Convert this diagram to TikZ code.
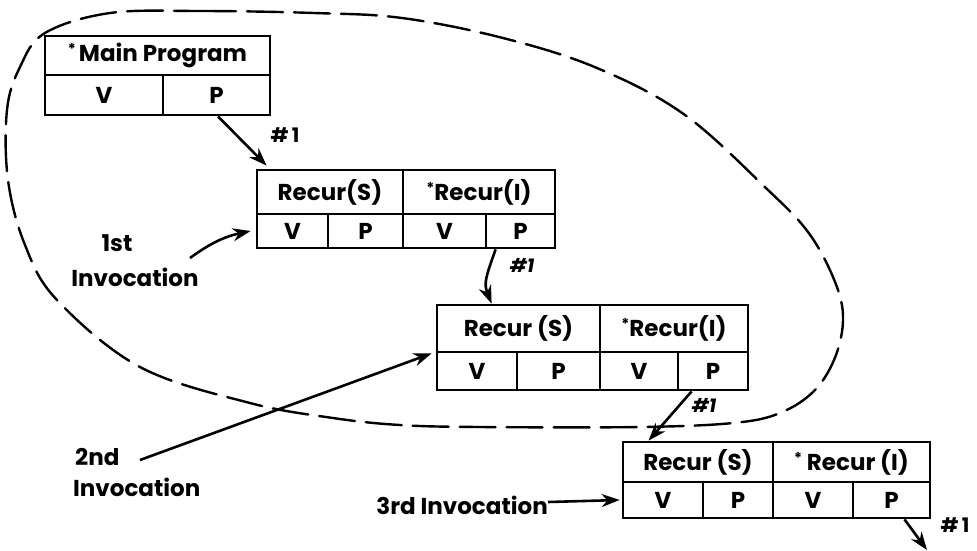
\documentclass[tikz,border=0pt]{standalone}
\usepackage{fontspec}
\setmainfont{Poppins}
\usetikzlibrary{arrows.meta}
\newcommand\mystar{\raisebox{0.3em}{\fontsize{15}{15}\selectfont *}}
\begin{document}
\begin{tikzpicture}[x=1pt,y=-1pt,
  cell/.style={draw, line width=2.8pt, inner sep=0pt, font=\fontsize{23}{27}\selectfont\bfseries},
  lbl/.style={inner sep=0pt, font=\fontsize{23}{27}\selectfont\bfseries},
  num/.style={inner sep=0pt, font=\fontsize{20}{24}\selectfont\bfseries},
  arr/.style={line width=2.6pt, -{Stealth[length=18pt,width=13pt]}},
  bound/.style={line width=2.4pt, dash pattern=on 36pt off 11pt, line cap=round}
]
\useasboundingbox (0,0) rectangle (977,550);

% dashed boundary
\draw[bound] plot[smooth cycle, tension=0.6] coordinates {
 (110,13) (200,11) (314,13) (402,18) (503,38) (597,68) (685,115) (768,190)
 (808,232) (833,277) (843,315) (836,355) (815,390) (780,413) (733,423)
 (640,427) (480,427) (400,425) (333,418) (250,403) (140,367) (57,300)
 (25,245) (8,180) (7,110) (20,67) (45,33)};

% Main program
\node[cell, minimum width=225pt, minimum height=39pt] (mT) at (157.5,55.5) {\mystar\hspace{3pt}Main Program};
\node[cell, minimum width=118pt, minimum height=40pt] (mV) at (104,95) {V};
\node[cell, minimum width=107pt, minimum height=40pt] (mP) at (216.5,95) {P};

% 1st invocation
\node[cell, minimum width=146pt, minimum height=44pt] (b1S) at (330,192) {Recur(S)};
\node[cell, minimum width=152pt, minimum height=44pt] (b1I) at (479,192) {\mystar Recur(I)};
\node[cell, minimum width=71pt, minimum height=34pt] (b1SV) at (292.5,231) {V};
\node[cell, minimum width=75pt, minimum height=34pt] (b1SP) at (365.5,231) {P};
\node[cell, minimum width=83pt, minimum height=34pt] (b1IV) at (444.5,231) {V};
\node[cell, minimum width=69pt, minimum height=34pt] (b1IP) at (520.5,231) {P};

% 2nd invocation
\node[cell, minimum width=163pt, minimum height=47pt] (b2S) at (518.5,328.5) {Recur (S)};
\node[cell, minimum width=148pt, minimum height=47pt] (b2I) at (674,328.5) {\mystar Recur(I)};
\node[cell, minimum width=80pt, minimum height=38pt] (b2SV) at (477,371) {V};
\node[cell, minimum width=83pt, minimum height=38pt] (b2SP) at (558.5,371) {P};
\node[cell, minimum width=78pt, minimum height=38pt] (b2IV) at (639,371) {V};
\node[cell, minimum width=70pt, minimum height=38pt] (b2IP) at (713,371) {P};

% 3rd invocation
\node[cell, minimum width=150pt, minimum height=40pt] (b3S) at (698,462) {Recur (S)};
\node[cell, minimum width=157pt, minimum height=40pt] (b3I) at (851.5,462) {\mystar\ Recur (I)};
\node[cell, minimum width=80pt, minimum height=36pt] (b3SV) at (663,500) {V};
\node[cell, minimum width=70pt, minimum height=36pt] (b3SP) at (738,500) {P};
\node[cell, minimum width=80pt, minimum height=36pt] (b3IV) at (813,500) {V};
\node[cell, minimum width=77pt, minimum height=36pt] (b3IP) at (891.5,500) {P};

% labels
\node[num] (n0) at (285,135) {\#\,1};
\node[num, font=\fontsize{19}{22}\selectfont\bfseries\itshape] (n1) at (522,265) {\#1};
\node[num, font=\fontsize{19}{22}\selectfont\bfseries\itshape] (n2) at (704,405) {\#1};
\node[num] (n3) at (955,525) {\#\,1};

\node[lbl] (l1a) at (117,243) {1st};
\node[lbl] (l1b) at (135,277) {Invocation};
\node[lbl, anchor=west] (l2a) at (75,457) {2nd};
\node[lbl, anchor=west] (l2b) at (73,487) {Invocation};
\node[lbl, anchor=east] (l3) at (548,505) {3rd Invocation};

\coordinate (i1s) at (190,258);
\coordinate (i2s) at (140,460);
\coordinate (out) at (927,550);

% connectors
\draw[arr] ([xshift=1.5pt]mP.south) -- ([shift={(11,-3)}]b1S.north west);
\draw[arr] (i1s) to[bend left=12] ([xshift=-5pt]b1SV.west);
\draw[arr] ([xshift=11pt]b1IP.south west) .. controls +(-10,28) and +(-8,-20) .. ([xshift=56pt]b2S.north west);
\draw[arr] (i2s) -- ([xshift=-4pt]b2S.south west);
\draw[arr] ([xshift=15pt]b2IP.south west) -- ([xshift=27pt]b3S.north west);
\draw[arr] ([yshift=3pt]l3.east) -- ([xshift=-2pt]b3SV.west);
\draw[arr] ([xshift=13pt]b3IP.south) -- (out);
\end{tikzpicture}
\end{document}
